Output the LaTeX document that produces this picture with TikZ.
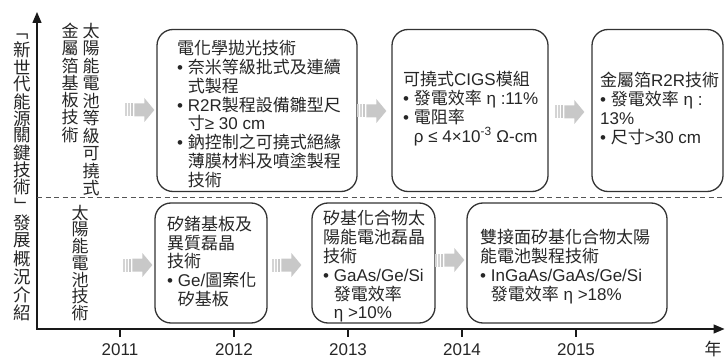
\documentclass[tikz,border=0pt]{standalone}
\usepackage{fontspec}
\setmainfont{Liberation Sans}
\newfontfamily\cjk{Noto Sans CJK TC}
\newcommand\zh[1]{{\cjk #1}}
\usetikzlibrary{arrows.meta,calc}
\definecolor{linegray}{HTML}{333333}
\definecolor{arrowgray}{HTML}{C8C8C8}
\definecolor{stripegray}{HTML}{D4D4D4}
\definecolor{dashgray}{HTML}{555555}
\newcommand\garrow[1]{%
  \begin{scope}[shift={#1}]
    \fill[stripegray] (-29,-6.5) rectangle (-27.3,6.5);
    \fill[stripegray] (-26,-6.5) rectangle (-24.3,6.5);
    \fill[arrowgray] (-23,-6.5) rectangle (-21.3,6.5);
    \fill[arrowgray] (-20,-6.5) -- (-10,-6.5) -- (-10,-12) -- (0,0) -- (-10,12) -- (-10,6.5) -- (-20,6.5) -- cycle;
  \end{scope}}
\begin{document}
\begin{tikzpicture}[x=1pt,y=-1pt,
  box/.style={draw=linegray, line width=1.3pt, rounded corners=16pt, inner sep=0pt},
  txt/.style={anchor=west, align=left, inner sep=0pt, text=black!85, font=\fontsize{17}{18.8}\selectfont},
  vch/.style={inner sep=0pt, text=black!85, font=\cjk\fontsize{17}{17}\selectfont},
  tch/.style={inner sep=0pt, text=black!85, font=\cjk\fontsize{17.5}{17.5}\selectfont},
  axis/.style={draw=black!90, line width=1.3pt},
  yr/.style={inner sep=0pt, text=black!85, font=\fontsize{17}{17}\selectfont},
  dline/.style={draw=dashgray, line width=1pt, dash pattern=on 5pt off 3.5pt}]
\useasboundingbox (0,0) rectangle (725,358);

% axes
\coordinate (O) at (37,329);
\coordinate (Ytop) at (37,12);
\coordinate (Xend) at (724.5,329);
\draw[axis,{Triangle[length=11pt,width=9pt]}-{Triangle[length=11pt,width=9pt]}] (Ytop) -- (O) -- (Xend);

% dashed separator
\coordinate (dL) at (37,197.5);
\coordinate (dR) at (725,197.5);
\draw[dline] (dL) -- (dR);

% ticks and years
\foreach \x/\yy in {120/2011,234/2012,348/2013,462/2014,576/2015}{
  \coordinate (tk\yy) at (\x,329);
  \draw[axis,line width=1.1pt] (tk\yy) -- ++(0,8);
  \node[yr] (lbl\yy) at (\x,349.5) {\yy};
}
\node[vch] (unit) at (713,349) {年};

% left title (vertical)
\node[tch, rotate=-90] (tq1) at (21,35) {\makebox[0.55em][r]{「}};
\foreach \c [count=\i] in {新,世,代,能,源,關,鍵,技,術}{
  \node[tch] (ta\i) at (22,{50+17.125*(\i-1)}) {\c};
}
\node[tch, rotate=-90] (tq2) at (21,202) {\makebox[0.55em][l]{」}};
\foreach \c [count=\i] in {發,展,概,況,介,紹}{
  \node[tch] (tb\i) at (22,{222.5+18.1*(\i-1)}) {\c};
}

% row labels (vertical)
\foreach \c [count=\i] in {太,陽,能,電,池,等,級,可,撓,式}{
  \node[vch] (ua\i) at (91,{30.7+17.5*(\i-1)}) {\c};
}
\foreach \c [count=\i] in {金,屬,箔,基,板,技,術}{
  \node[vch] (ub\i) at (70,{31+17.3*(\i-1)}) {\c};
}
\foreach \c [count=\i] in {太,陽,能,電,池,技,術}{
  \node[vch] (la\i) at (80,{213+16.7*(\i-1)}) {\c};
}

% boxes upper row
\node[box, minimum width=200pt, minimum height=162pt] (b1) at (257,110.5) {};
\node[box, minimum width=156pt, minimum height=162pt] (b2) at (470,110.5) {};
\node[box, minimum width=131pt, minimum height=162pt] (b3) at (657.5,110.5) {};
% boxes lower row
\node[box, minimum width=112pt, minimum height=120pt] (b4) at (211,263) {};
\node[box, minimum width=123pt, minimum height=120pt] (b5) at (373.5,263) {};
\node[box, minimum width=200pt, minimum height=120pt] (b6) at (567,263) {};

% texts
\node[txt] (t1) at (177,114) {\zh{電化學拋光技術}\\
• \zh{奈米等級批式及連續}\\
\hphantom{• }\zh{式製程}\\
• R2R\zh{製程設備雛型尺}\\
\hphantom{• }\zh{寸}≥ 30 cm\\
• \zh{鈉控制之可撓式絕緣}\\
\hphantom{• }\zh{薄膜材料及噴塗製程}\\
\hphantom{• }\zh{技術}};

\node[txt] (t2) at (403,108.5) {\zh{可撓式}CIGS\zh{模組}\\
• \zh{發電效率} η :11\%\\
• \zh{電阻率}\\
\hphantom{•}\ ρ ≤ 4×10\textsuperscript{-3} Ω-cm};

\node[txt] (t3) at (600,108.5) {\zh{金屬箔}R2R\zh{技術}\\
• \zh{發電效率} η :\\
13\%\\
• \zh{尺寸}>30 cm};

\node[txt] (t4) at (167,261.5) {\zh{矽鍺基板及}\\
\zh{異質磊晶}\\
\zh{技術}\\
• Ge/\zh{圖案化}\\
\hphantom{• }\zh{矽基板}};

\node[txt] (t5) at (323,266.5) {\zh{矽基化合物太}\\
\zh{陽能電池磊晶}\\
\zh{技術}\\
• GaAs/Ge/Si\\
\hphantom{• }\zh{發電效率}\\
\hphantom{• }η >10\%};

\node[txt] (t6) at (480,266.5) {\zh{雙接面矽基化合物太陽}\\
\zh{能電池製程技術}\\
• InGaAs/GaAs/Ge/Si\\
\hphantom{• }\zh{發電效率} η >18\%};

% gray block arrows
\garrow{($(b1.west)+(-2,-0.5)$)}
\garrow{($(b2.west)+(-5,0.5)$)}
\garrow{($(b3.west)+(-7,1.5)$)}
\garrow{($(b4.west)+(-2,2)$)}
\garrow{($(b5.west)+(-10,2)$)}
\garrow{($(b6.west)+(-2,-3)$)}
\end{tikzpicture}
\end{document}
